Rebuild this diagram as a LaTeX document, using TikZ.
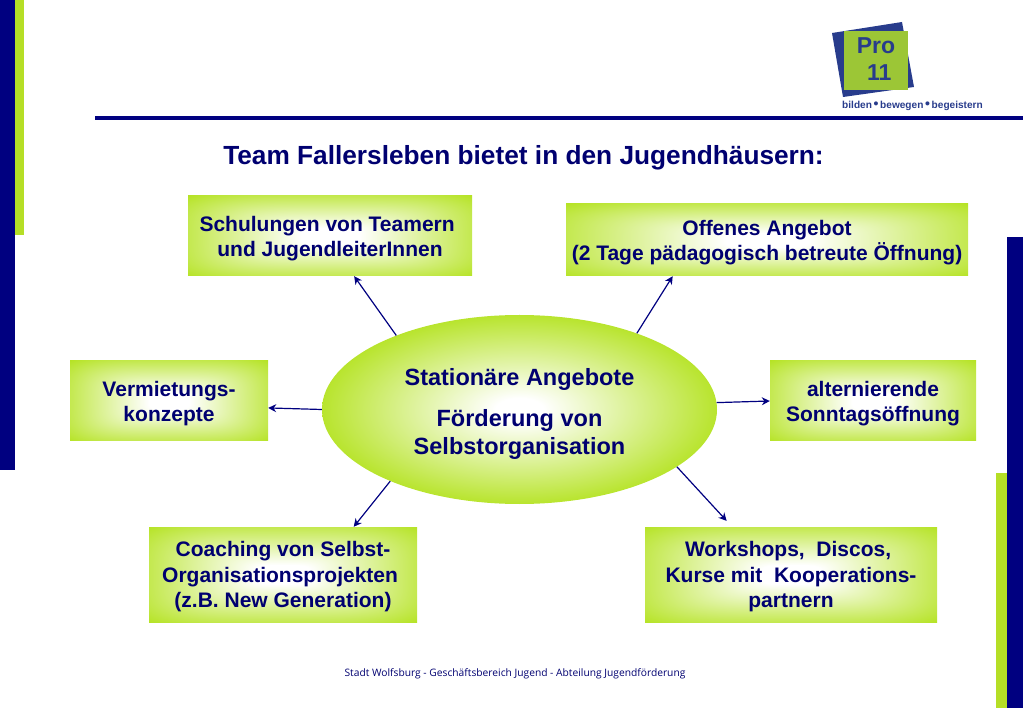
\documentclass[tikz,border=0pt]{standalone}
\usepackage{fontspec}
\setmainfont{Liberation Sans}
\newfontfamily\footfont{Open Sans}
\usetikzlibrary{shapes.geometric,arrows.meta}
\definecolor{navybar}{RGB}{0,0,128}
\definecolor{navytext}{RGB}{0,0,112}
\definecolor{limebar}{RGB}{181,222,38}
\definecolor{glow}{RGB}{181,227,36}
\definecolor{logoblue}{RGB}{40,60,140}
\definecolor{logogreen}{RGB}{156,198,54}
\pgfdeclarefunctionalshading{boxglow}{\pgfpoint{-50bp}{-50bp}}{\pgfpoint{50bp}{50bp}}{}{
  50 div dup mul dup mul exch 50 div dup mul dup mul add sqrt sqrt
  .1 sub .5 div dup 1 gt {pop 1} if dup 0 lt {pop 0} if
  dup .29 mul 1 exch sub exch
  dup .11 mul 1 exch sub exch
  .86 mul 1 exch sub
}
\pgfdeclareradialshading{hubglow}{\pgfpoint{0bp}{0bp}}{color(0bp)=(white); color(3bp)=(white); color(26bp)=(glow); color(50bp)=(glow)}
\newcommand{\boxtop}{\rule{0pt}{20pt}}
\newcommand{\hubtop}{\rule{0pt}{25pt}}
\tikzset{
  offerbox/.style={rectangle,shading=boxglow,inner sep=0pt,align=center,text=navytext,
    font=\fontsize{21}{25.5}\selectfont\bfseries},
  hub/.style={ellipse,shading=hubglow,inner sep=0pt,
    minimum width=395pt,minimum height=189pt,align=center,text=navytext,
    font=\fontsize{23.5}{28}\selectfont\bfseries},
  link/.style={-{Stealth[length=8pt,width=8pt]},navybar,line width=1.2pt},
}
\begin{document}
\begin{tikzpicture}[x=1pt,y=-1pt]
  \useasboundingbox (0,0) rectangle (1023,708);
  % side bars and rule
  \fill[navybar] (0,0) rectangle (15,470);
  \fill[limebar] (15,0) rectangle (24,235);
  \fill[navybar] (1007,237) rectangle (1023,708);
  \fill[limebar] (996,473) rectangle (1007,708);
  \fill[navybar] (95,116) rectangle (1023,120);
  % logo
  \fill[logoblue] (832,33)--(902,22)--(914,87)--(843,97)--cycle;
  \fill[logogreen] (844,31) rectangle (908,90);
  \node[text=logoblue,align=center,font=\fontsize{23}{26.5}\selectfont\bfseries] (logotext) at (876,59) {Pro\\\ 11};
  \node[text=logoblue,font=\fontsize{10.1}{12}\selectfont\bfseries] (tagline) at (912.5,106) {bilden\,{\fontsize{14}{12}\selectfont\textbullet}\,bewegen\,{\fontsize{14}{12}\selectfont\textbullet}\,begeistern};
  % title
  \node[text=navytext,font=\fontsize{26.25}{32}\selectfont\bfseries] (title) at (523.5,158) {Team Fallersleben bietet in den Jugendhäusern:};
  % boxes
  \node[offerbox,minimum width=284pt,minimum height=80pt] (teamer) at (330,236) {\boxtop Schulungen von Teamern\ \mbox{}\\und JugendleiterInnen};
  \node[offerbox,minimum width=402pt,minimum height=72pt] (offen) at (767,240) {\boxtop Offenes Angebot\\(2 Tage pädagogisch betreute Öffnung)};
  \node[offerbox,minimum width=198pt,minimum height=80pt] (miete) at (169,401) {\boxtop Vermietungs-\\konzepte};
  \node[offerbox,minimum width=206pt,minimum height=80pt] (sonntag) at (873,401) {\boxtop alternierende\\Sonntagsöffnung};
  \node[offerbox,minimum width=268pt,minimum height=95pt] (coaching) at (283,574.5) {\boxtop Coaching von Selbst-\\Organisationsprojekten\ \mbox{}\\(z.B. New Generation)};
  \node[offerbox,minimum width=292pt,minimum height=95pt] (workshop) at (791,574.5) {\boxtop Workshops,\ \ Discos,\ \mbox{}\\Kurse mit\ \ Kooperations-\\partnern};
  % centre
  \node[hub] (station) at (519.5,409.5) {\hubtop Stationäre Angebote\\[13pt]Förderung von\\Selbstorganisation};
  % arrows
  \draw[link] (station.149) -- (teamer.-59);
  \draw[link] (station.33.5) -- (offen.201.8);
  \draw[link] (station.west) -- (miete.-4.9);
  \draw[link] (station.2.5) -- (sonntag.west);
  \draw[link] (station.209.8) -- (coaching.34.5);
  \draw[link,shorten >=8pt] (station.-20) -- (workshop.141.6);
  % footer
  \node[text=navytext,font=\footfont\fontsize{10.25}{12}\selectfont] (footer) at (515,674) {Stadt Wolfsburg - Geschäftsbereich Jugend - Abteilung Jugendförderung};
\end{tikzpicture}
\end{document}
